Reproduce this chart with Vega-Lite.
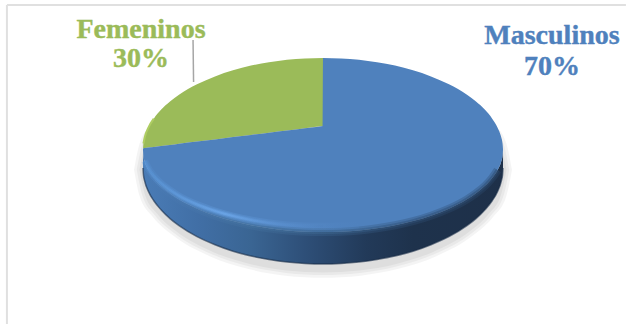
{
  "$schema": "https://vega.github.io/schema/vega-lite/v6.json",
  "width": 627,
  "height": 325,
  "padding": 0,
  "autosize": {"type": "fit", "contains": "padding"},
  "background": "#ffffff",
  "config": {"view": {"stroke": null}, "axis": {"disable": true}},
  "datasets": {
    "disc": [
      {"x": -100, "top": 0.5, "bottom": 0, "cut": 0.5, "rim": 0, "wall": -10},
      {"x": -99.75, "top": 3.6, "bottom": -3.2, "cut": 1, "rim": -3, "wall": -13.8},
      {"x": -99, "top": 7.2, "bottom": -6.4, "cut": 1.1, "rim": -6, "wall": -17.5},
      {"x": -97, "top": 12.4, "bottom": -11.1, "cut": 1.4, "rim": -10.3, "wall": -23},
      {"x": -94, "top": 17.4, "bottom": -15.5, "cut": 1.7, "rim": -14.4, "wall": -28.2},
      {"x": -90, "top": 22.3, "bottom": -19.9, "cut": 2.2, "rim": -18.5, "wall": -33.2},
      {"x": -85, "top": 26.9, "bottom": -24, "cut": 2.8, "rim": -22.3, "wall": -38.1},
      {"x": -80, "top": 30.7, "bottom": -27.4, "cut": 3.5, "rim": -25.5, "wall": -42},
      {"x": -70, "top": 36.5, "bottom": -32.6, "cut": 4.7, "rim": -30.3, "wall": -48.1},
      {"x": -60, "top": 40.9, "bottom": -36.5, "cut": 5.9, "rim": -33.9, "wall": -52.6},
      {"x": -50, "top": 44.3, "bottom": -39.5, "cut": 7.2, "rim": -36.7, "wall": -56.2},
      {"x": -40, "top": 46.9, "bottom": -41.8, "cut": 8.4, "rim": -38.9, "wall": -58.9},
      {"x": -30, "top": 48.7, "bottom": -43.5, "cut": 9.6, "rim": -40.5, "wall": -60.8},
      {"x": -20, "top": 50.1, "bottom": -44.7, "cut": 10.8, "rim": -41.6, "wall": -62.2},
      {"x": -10, "top": 50.8, "bottom": -45.4, "cut": 12.1, "rim": -42.2, "wall": -63},
      {"x": 0, "top": 51.1, "bottom": -45.6, "cut": 13.3, "rim": -42.4, "wall": -63.3},
      {"x": 0.01, "top": 51.1, "bottom": -45.6, "cut": 51.1, "rim": -42.4, "wall": -63.3},
      {"x": 10, "top": 50.8, "bottom": -45.4, "cut": 50.8, "rim": -42.2, "wall": -63},
      {"x": 20, "top": 50.1, "bottom": -44.7, "cut": 50.1, "rim": -41.6, "wall": -62.2},
      {"x": 30, "top": 48.7, "bottom": -43.5, "cut": 48.7, "rim": -40.5, "wall": -60.8},
      {"x": 40, "top": 46.9, "bottom": -41.8, "cut": 46.9, "rim": -38.9, "wall": -58.9},
      {"x": 50, "top": 44.3, "bottom": -39.5, "cut": 44.3, "rim": -36.7, "wall": -56.2},
      {"x": 60, "top": 40.9, "bottom": -36.5, "cut": 40.9, "rim": -33.9, "wall": -52.6},
      {"x": 70, "top": 36.5, "bottom": -32.6, "cut": 36.5, "rim": -30.3, "wall": -48.1},
      {"x": 80, "top": 30.7, "bottom": -27.4, "cut": 30.7, "rim": -25.5, "wall": -42},
      {"x": 85, "top": 26.9, "bottom": -24, "cut": 26.9, "rim": -22.3, "wall": -38.1},
      {"x": 90, "top": 22.3, "bottom": -19.9, "cut": 22.3, "rim": -18.5, "wall": -33.2},
      {"x": 94, "top": 17.4, "bottom": -15.5, "cut": 17.4, "rim": -14.4, "wall": -28.2},
      {"x": 97, "top": 12.4, "bottom": -11.1, "cut": 12.4, "rim": -10.3, "wall": -23},
      {"x": 99, "top": 7.2, "bottom": -6.4, "cut": 7.2, "rim": -6, "wall": -17.5},
      {"x": 99.75, "top": 3.6, "bottom": -3.2, "cut": 3.6, "rim": -3, "wall": -13.8},
      {"x": 100, "top": 0.5, "bottom": 0, "cut": 0.5, "rim": 0, "wall": -10}
    ],
    "shadow": [
      {"x1": -105, "y1": -11, "t1": -11, "x2": -103.5, "y2": -11, "t2": -11, "x3": -102, "y3": -11, "t3": -11},
      {"x1": -101.9, "y1": -25.6, "t1": 3.6, "x2": -100.4, "y2": -25.2, "t2": 3.2, "x3": -98.9, "y3": -24.9, "t3": 2.9},
      {"x1": -94.5, "y1": -37.2, "t1": 15.2, "x2": -93.2, "y2": -36.5, "t2": 14.5, "x3": -91.8, "y3": -35.9, "t3": 13.9},
      {"x1": -84, "y1": -47, "t1": 25, "x2": -82.8, "y2": -46.1, "t2": 24.1, "x3": -81.6, "y3": -45.2, "t3": 23.2},
      {"x1": -63, "y1": -59, "t1": 37, "x2": -62.1, "y2": -57.8, "t2": 35.8, "x3": -61.2, "y3": -56.6, "t3": 34.6},
      {"x1": -42, "y1": -66, "t1": 44, "x2": -41.4, "y2": -64.6, "t2": 42.6, "x3": -40.8, "y3": -63.3, "t3": 41.3},
      {"x1": -21, "y1": -69.8, "t1": 47.8, "x2": -20.7, "y2": -68.3, "t2": 46.3, "x3": -20.4, "y3": -66.9, "t3": 44.9},
      {"x1": 0, "y1": -71, "t1": 49, "x2": 0, "y2": -69.5, "t2": 47.5, "x3": 0, "y3": -68, "t3": 46},
      {"x1": 21, "y1": -69.8, "t1": 47.8, "x2": 20.7, "y2": -68.3, "t2": 46.3, "x3": 20.4, "y3": -66.9, "t3": 44.9},
      {"x1": 42, "y1": -66, "t1": 44, "x2": 41.4, "y2": -64.6, "t2": 42.6, "x3": 40.8, "y3": -63.3, "t3": 41.3},
      {"x1": 63, "y1": -59, "t1": 37, "x2": 62.1, "y2": -57.8, "t2": 35.8, "x3": 61.2, "y3": -56.6, "t3": 34.6},
      {"x1": 84, "y1": -47, "t1": 25, "x2": 82.8, "y2": -46.1, "t2": 24.1, "x3": 81.6, "y3": -45.2, "t3": 23.2},
      {"x1": 94.5, "y1": -37.2, "t1": 15.2, "x2": 93.2, "y2": -36.5, "t2": 14.5, "x3": 91.8, "y3": -35.9, "t3": 13.9},
      {"x1": 101.9, "y1": -25.6, "t1": 3.6, "x2": 100.4, "y2": -25.2, "t2": 3.2, "x3": 98.9, "y3": -24.9, "t3": 2.9},
      {"x1": 105, "y1": -11, "t1": -11, "x2": 103.5, "y2": -11, "t2": -11, "x3": 102, "y3": -11, "t3": -11}
    ],
    "labels": [
      {"genero": "Femeninos", "text": "Femeninos", "x": -101.1, "y": 66.7},
      {"genero": "Femeninos", "text": "30%", "x": -101.1, "y": 50.6},
      {"genero": "Masculinos", "text": "Masculinos", "x": 127.2, "y": 63.3},
      {"genero": "Masculinos", "text": "70%", "x": 127.2, "y": 46.1}
    ]
  },
  "layer": [
    {
      "data": {"values": [{"x": -175.6, "x2": 168.3, "y": 80.6}]},
      "mark": {"type": "rule", "stroke": "#e0e0e0", "strokeWidth": 2},
      "encoding": {
        "x": {"field": "x", "type": "quantitative", "scale": {"domain": [-179.44, 168.89], "nice": false, "zero": false}},
        "x2": {"field": "x2"},
        "y": {"field": "y", "type": "quantitative", "scale": {"domain": [-97.22, 83.33], "nice": false, "zero": false}}
      }
    },
    {
      "data": {"values": [{"x": -175.6, "y": 80.6, "y2": -96.6}]},
      "mark": {"type": "rule", "stroke": "#e0e0e0", "strokeWidth": 2},
      "encoding": {
        "x": {"field": "x", "type": "quantitative"},
        "y": {"field": "y", "type": "quantitative"},
        "y2": {"field": "y2"}
      }
    },
    {
      "data": {"name": "shadow"},
      "mark": {"type": "area", "interpolate": "monotone", "fill": "#000000", "fillOpacity": 0.045},
      "encoding": {
        "x": {"field": "x1", "type": "quantitative"},
        "y": {"field": "y1", "type": "quantitative"},
        "y2": {"field": "t1"}
      }
    },
    {
      "data": {"name": "shadow"},
      "mark": {"type": "area", "interpolate": "monotone", "fill": "#000000", "fillOpacity": 0.045},
      "encoding": {
        "x": {"field": "x2", "type": "quantitative"},
        "y": {"field": "y2", "type": "quantitative"},
        "y2": {"field": "t2"}
      }
    },
    {
      "data": {"name": "shadow"},
      "mark": {"type": "area", "interpolate": "monotone", "fill": "#000000", "fillOpacity": 0.045},
      "encoding": {
        "x": {"field": "x3", "type": "quantitative"},
        "y": {"field": "y3", "type": "quantitative"},
        "y2": {"field": "t3"}
      }
    },
    {
      "data": {"name": "disc"},
      "mark": {
        "type": "area",
        "interpolate": "monotone",
        "fill": {
          "gradient": "linear", "x1": 0, "y1": 0, "x2": 1, "y2": 0,
          "stops": [
            {"offset": 0, "color": "#4a7cb6"},
            {"offset": 0.15, "color": "#416fa6"},
            {"offset": 0.3, "color": "#3a6593"},
            {"offset": 0.45, "color": "#2e4f78"},
            {"offset": 0.62, "color": "#223a59"},
            {"offset": 0.75, "color": "#1e324c"},
            {"offset": 1, "color": "#1e3049"}
          ]
        }
      },
      "encoding": {
        "x": {"field": "x", "type": "quantitative"},
        "y": {"field": "wall", "type": "quantitative"},
        "y2": {"field": "bottom"}
      }
    },
    {
      "data": {"name": "disc"},
      "mark": {"type": "line", "interpolate": "monotone", "stroke": "#182c46", "strokeWidth": 1.5, "strokeOpacity": 0.6},
      "encoding": {
        "x": {"field": "x", "type": "quantitative"},
        "y": {"field": "wall", "type": "quantitative"}
      }
    },
    {
      "data": {"name": "disc"},
      "transform": [{"filter": "datum.x <= 0"}],
      "mark": {"type": "area", "interpolate": "monotone", "fill": "#9bbb59"},
      "encoding": {
        "x": {"field": "x", "type": "quantitative"},
        "y": {"field": "top", "type": "quantitative"},
        "y2": {"field": "cut"}
      }
    },
    {
      "data": {"name": "disc"},
      "mark": {"type": "area", "interpolate": "monotone", "fill": "#4f81bd"},
      "encoding": {
        "x": {"field": "x", "type": "quantitative"},
        "y": {"field": "cut", "type": "quantitative"},
        "y2": {"field": "bottom"}
      }
    },
    {
      "data": {"name": "disc"},
      "transform": [{"filter": "datum.x >= -97 && datum.x <= 97"}],
      "mark": {
        "type": "line",
        "interpolate": "monotone",
        "strokeWidth": 8,
        "strokeOpacity": 0.35,
        "stroke": {
          "gradient": "linear", "x1": 0, "y1": 0, "x2": 1, "y2": 0,
          "stops": [
            {"offset": 0, "color": "#4b7bb5"},
            {"offset": 0.3, "color": "#44729f"},
            {"offset": 0.5, "color": "#3c6690"},
            {"offset": 0.75, "color": "#2f4f76"},
            {"offset": 1, "color": "#2c4b70"}
          ]
        }
      },
      "encoding": {
        "x": {"field": "x", "type": "quantitative"},
        "y": {"field": "bottom", "type": "quantitative"}
      }
    },
    {
      "data": {"name": "disc"},
      "transform": [{"filter": "datum.x >= -97 && datum.x <= 97"}],
      "mark": {
        "type": "line",
        "interpolate": "monotone",
        "strokeWidth": 4,
        "strokeOpacity": 0.5,
        "stroke": {
          "gradient": "linear", "x1": 0, "y1": 0, "x2": 1, "y2": 0,
          "stops": [
            {"offset": 0, "color": "#4b7bb5"},
            {"offset": 0.3, "color": "#44729f"},
            {"offset": 0.5, "color": "#3c6690"},
            {"offset": 0.75, "color": "#2f4f76"},
            {"offset": 1, "color": "#2c4b70"}
          ]
        }
      },
      "encoding": {
        "x": {"field": "x", "type": "quantitative"},
        "y": {"field": "bottom", "type": "quantitative"}
      }
    },
    {
      "data": {"name": "disc"},
      "transform": [{"filter": "datum.x >= -99 && datum.x <= 20"}],
      "mark": {
        "type": "line",
        "interpolate": "monotone",
        "strokeWidth": 7,
        "strokeOpacity": 0.25,
        "stroke": {
          "gradient": "linear", "x1": 0, "y1": 0, "x2": 1, "y2": 0,
          "stops": [
            {"offset": 0, "color": "#5a96d8"},
            {"offset": 0.4, "color": "#6aa8ee"},
            {"offset": 0.7, "color": "#5c92d2"},
            {"offset": 1, "color": "#4f81bd"}
          ]
        }
      },
      "encoding": {
        "x": {"field": "x", "type": "quantitative"},
        "y": {"field": "rim", "type": "quantitative"}
      }
    },
    {
      "data": {"name": "disc"},
      "transform": [{"filter": "datum.x >= -99 && datum.x <= 10"}],
      "mark": {
        "type": "line",
        "interpolate": "monotone",
        "strokeWidth": 4,
        "strokeOpacity": 0.35,
        "stroke": {
          "gradient": "linear", "x1": 0, "y1": 0, "x2": 1, "y2": 0,
          "stops": [
            {"offset": 0, "color": "#5a96d8"},
            {"offset": 0.4, "color": "#6fadf2"},
            {"offset": 0.7, "color": "#5c92d2"},
            {"offset": 1, "color": "#4f81bd"}
          ]
        }
      },
      "encoding": {
        "x": {"field": "x", "type": "quantitative"},
        "y": {"field": "rim", "type": "quantitative"}
      }
    },
    {
      "data": {"name": "disc"},
      "transform": [{"filter": "datum.x >= -99 && datum.x <= 0"}],
      "mark": {
        "type": "line",
        "interpolate": "monotone",
        "strokeWidth": 2,
        "strokeOpacity": 0.4,
        "stroke": {
          "gradient": "linear", "x1": 0, "y1": 0, "x2": 1, "y2": 0,
          "stops": [
            {"offset": 0, "color": "#5a96d8"},
            {"offset": 0.45, "color": "#78b4f8"},
            {"offset": 0.75, "color": "#5c92d2"},
            {"offset": 1, "color": "#4f81bd"}
          ]
        }
      },
      "encoding": {
        "x": {"field": "x", "type": "quantitative"},
        "y": {"field": "rim", "type": "quantitative"}
      }
    },
    {
      "data": {"name": "disc"},
      "transform": [{"filter": "datum.x >= -99.75 && datum.x <= -92"}],
      "mark": {"type": "line", "interpolate": "monotone", "stroke": "#aecd62", "strokeWidth": 2},
      "encoding": {
        "x": {"field": "x", "type": "quantitative"},
        "y": {"field": "top", "type": "quantitative"}
      }
    },
    {
      "data": {"values": [{"x": -72.2, "x2": -71.9, "y": 61.1, "y2": 37.8}]},
      "mark": {"type": "rule", "stroke": "#a6a6a6", "strokeWidth": 1.5},
      "encoding": {
        "x": {"field": "x", "type": "quantitative"},
        "x2": {"field": "x2"},
        "y": {"field": "y", "type": "quantitative"},
        "y2": {"field": "y2"}
      }
    },
    {
      "data": {"name": "labels"},
      "mark": {"type": "text", "font": "Liberation Serif", "fontWeight": "bold", "fontSize": 28, "align": "center", "baseline": "middle", "strokeWidth": 0.4},
      "encoding": {
        "x": {"field": "x", "type": "quantitative"},
        "y": {"field": "y", "type": "quantitative"},
        "text": {"field": "text"},
        "color": {
          "field": "genero",
          "type": "nominal",
          "legend": null,
          "scale": {"domain": ["Femeninos", "Masculinos"], "range": ["#9bbb59", "#4f81bd"]}
        },
        "stroke": {
          "field": "genero",
          "type": "nominal",
          "legend": null,
          "scale": {"domain": ["Femeninos", "Masculinos"], "range": ["#9bbb59", "#4f81bd"]}
        }
      }
    }
  ]
}
